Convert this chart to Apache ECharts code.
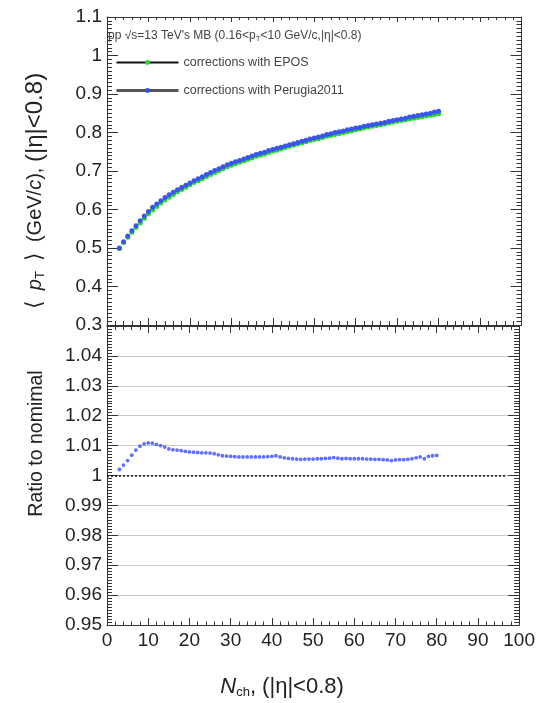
<!DOCTYPE html>
<html>
<head>
<meta charset="utf-8">
<script src="https://cdn.jsdelivr.net/npm/echarts@6/dist/echarts.min.js"></script>
<style>
html,body{margin:0;padding:0;background:#fff;}
#c{width:538px;height:703px;}
</style>
</head>
<body>
<div id="c"></div>
<script>
// ---- data ----
const nch = [3,4,5,6,7,8,9,10,11,12,13,14,15,16,17,18,19,20,21,22,23,24,25,26,27,28,29,30,31,32,33,34,35,36,37,38,39,40,41,42,43,44,45,46,47,48,49,50,51,52,53,54,55,56,57,58,59,60,61,62,63,64,65,66,67,68,69,70,71,72,73,74,75,76,77,78,79,80];
const meanPtEPOS = [0.499,0.514,0.528,0.541,0.553,0.565,0.577,0.589,0.599,0.608,0.617,0.625,0.632,0.639,0.646,0.652,0.658,0.664,0.670,0.675,0.680,0.686,0.691,0.696,0.701,0.706,0.711,0.715,0.719,0.723,0.726,0.730,0.734,0.738,0.741,0.744,0.748,0.751,0.754,0.757,0.761,0.764,0.767,0.770,0.773,0.776,0.779,0.782,0.784,0.787,0.790,0.792,0.795,0.797,0.800,0.802,0.804,0.807,0.809,0.812,0.814,0.816,0.818,0.820,0.822,0.825,0.827,0.829,0.831,0.833,0.835,0.837,0.839,0.841,0.843,0.845,0.847,0.849];
const meanPtPerugia = [0.500,0.516,0.531,0.545,0.558,0.571,0.583,0.595,0.606,0.614,0.623,0.631,0.638,0.645,0.651,0.657,0.663,0.669,0.675,0.680,0.685,0.691,0.696,0.701,0.706,0.711,0.716,0.720,0.724,0.727,0.731,0.735,0.739,0.743,0.746,0.749,0.753,0.756,0.759,0.762,0.765,0.768,0.771,0.774,0.777,0.780,0.783,0.786,0.788,0.791,0.795,0.797,0.800,0.802,0.804,0.807,0.809,0.812,0.813,0.816,0.818,0.820,0.822,0.824,0.826,0.829,0.831,0.833,0.835,0.837,0.840,0.842,0.844,0.846,0.848,0.850,0.853,0.855];
const ratioToNominal = [1.0020,1.0035,1.0050,1.0068,1.0085,1.0098,1.0106,1.0109,1.0108,1.0104,1.0100,1.0095,1.0089,1.0086,1.0085,1.0083,1.0081,1.0079,1.0078,1.0077,1.0076,1.0076,1.0075,1.0073,1.0069,1.0066,1.0065,1.0064,1.0063,1.0062,1.0062,1.0062,1.0062,1.0062,1.0062,1.0062,1.0063,1.0064,1.0066,1.0062,1.0059,1.0057,1.0056,1.0055,1.0054,1.0055,1.0055,1.0055,1.0056,1.0056,1.0057,1.0058,1.0060,1.0058,1.0056,1.0057,1.0056,1.0056,1.0056,1.0056,1.0055,1.0055,1.0054,1.0054,1.0053,1.0052,1.0050,1.0052,1.0053,1.0053,1.0054,1.0056,1.0059,1.0062,1.0056,1.0064,1.0066,1.0067];
const seriesNames = ['corrections with EPOS', 'corrections with Perugia2011'];
const unityLine = [[0, 1], [97, 1]];

// ---- chart ----
const FONT = 'Liberation Sans';
const frame = '#333';
const chart = echarts.init(document.getElementById('c'), null, {renderer: 'canvas'});
const pair = (ys) => nch.map((x, i) => [x, ys[i]]);

function xAx(grid, pos, labels, extra) {
  return Object.assign({
    type: 'value', gridIndex: grid, position: pos, min: 0, max: 100, interval: 10,
    axisLine: {show: true, onZero: false, lineStyle: {color: frame, width: 1}},
    axisTick: {show: true, inside: true, length: 8, lineStyle: {color: frame}},
    minorTick: {show: true, splitNumber: 5, length: 4, lineStyle: {color: frame}},
    axisLabel: {show: labels, margin: 6, fontFamily: FONT, fontSize: 19, color: '#222'},
    splitLine: {show: false}
  }, extra || {});
}
function yAx(grid, pos, min, max, interval, labels, extra) {
  return Object.assign({
    type: 'value', gridIndex: grid, position: pos, min: min, max: max, interval: interval,
    axisLine: {show: true, onZero: false, lineStyle: {color: frame, width: 1}},
    axisTick: {show: true, inside: true, length: 11, lineStyle: {color: frame}},
    minorTick: {show: true, splitNumber: 10, length: 5, lineStyle: {color: frame}},
    axisLabel: {show: labels, margin: 5, fontFamily: FONT, fontSize: 19, color: '#222'},
    splitLine: {show: false}
  }, extra || {});
}
const richTitle = {
  a: {fontFamily: FONT, fontSize: 20, color: '#222'},
  i: {fontFamily: FONT, fontSize: 20, fontStyle: 'italic', color: '#222'},
  s: {fontFamily: FONT, fontSize: 13, color: '#222', verticalAlign: 'bottom', padding: [10, 0, 0, 0]},
  b: {fontFamily: FONT, fontSize: 22, color: '#222', padding: [0, 10, 0, 10]},
  w: {fontFamily: FONT, fontSize: 24, color: '#222'}
};

const option = {
  backgroundColor: '#fff',
  animation: false,
  textStyle: {fontFamily: FONT},
  title: {
    left: 103, top: 24,
    text: '{a|pp √}{a|s}{a|=13 TeV\'s MB (0.16<p}{s|T}{a|<10 GeV/c,|η|<0.8)}',
    textStyle: {
      fontWeight: 'normal',
      rich: {
        a: {fontFamily: FONT, fontSize: 12, color: '#444', fontWeight: 'normal'},
        s: {fontFamily: FONT, fontSize: 8, color: '#444', fontWeight: 'normal', verticalAlign: 'bottom', padding: [6, 0, 0, 0]}
      }
    }
  },
  legend: {
    orient: 'vertical', left: 110, top: 51,
    itemWidth: 62, itemHeight: 6, itemGap: 15,
    textStyle: {fontFamily: FONT, fontSize: 12.5, color: '#444'},
    data: [
      {name: seriesNames[0], itemStyle: {color: '#22dd22'}, lineStyle: {color: '#111', width: 2, opacity: 1}},
      {name: seriesNames[1], itemStyle: {color: '#3050f0'}, lineStyle: {color: '#555', width: 3, opacity: 1}}
    ]
  },
  grid: [
    {left: 107, right: 16.5, top: 17, height: 308},
    {left: 107, right: 16.5, top: 326, height: 299}
  ],
  xAxis: [
    xAx(0, 'bottom', false, {axisTick: {show: true, inside: true, length: 7, lineStyle: {color: frame}}}),
    xAx(0, 'top', false, {axisTick: {show: true, inside: true, length: 5, lineStyle: {color: frame}}, minorTick: {show: true, splitNumber: 5, length: 3, lineStyle: {color: frame}}}),
    xAx(1, 'bottom', true, {
      name: '{i|N}{s|ch}{w|, (|η|<0.8)}',
      nameLocation: 'middle', nameGap: 50,
      nameTextStyle: {padding: [0, 62, 0, 0], rich: {
        i: {fontFamily: FONT, fontSize: 22, fontStyle: 'italic', color: '#222'},
        s: {fontFamily: FONT, fontSize: 13, color: '#222', verticalAlign: 'bottom', padding: [11, 0, 0, 0]},
        w: {fontFamily: FONT, fontSize: 22, color: '#222'}
      }},
      axisTick: {show: true, inside: true, length: 7, lineStyle: {color: frame}},
      minorTick: {show: true, splitNumber: 5, length: 3.5, lineStyle: {color: frame}}
    }),
    xAx(1, 'top', false, {axisTick: {show: true, inside: true, length: 7, lineStyle: {color: frame}}})
  ],
  yAxis: [
    yAx(0, 'left', 0.3, 1.1, 0.1, true, {
      name: '{b|⟨}{i|p}{s|T}{b|⟩}{a|(GeV/}{i|c}{a|), }{w|(|η|<0.8)}',
      nameLocation: 'middle', nameGap: 60, nameRotate: 90,
      nameTextStyle: {padding: [0, 50, 0, 0], rich: richTitle}
    }),
    yAx(0, 'right', 0.3, 1.1, 0.1, false),
    yAx(1, 'left', 0.95, 1.05, 0.01, true, {
      name: 'Ratio to nomimal',
      nameLocation: 'middle', nameGap: 60, nameRotate: 90,
      nameTextStyle: {fontFamily: FONT, fontSize: 19.5, color: '#222', padding: [0, 0, 0, 64]},
      axisLabel: {show: true, margin: 5, fontFamily: FONT, fontSize: 19, color: '#222',
        formatter: (v) => (v > 1.045 ? '' : String(Math.round(v * 100) / 100))},
      splitLine: {show: true, lineStyle: {color: '#c8c8c8', width: 1}}
    }),
    yAx(1, 'right', 0.95, 1.05, 0.01, false)
  ],
  series: [
    {
      name: seriesNames[0], type: 'line', xAxisIndex: 0, yAxisIndex: 0,
      data: pair(meanPtEPOS), symbol: 'circle', symbolSize: 5, showAllSymbol: true,
      itemStyle: {color: '#22dd22'}, lineStyle: {width: 0, opacity: 0}, z: 3
    },
    {
      name: seriesNames[1], type: 'line', xAxisIndex: 0, yAxisIndex: 0,
      data: pair(meanPtPerugia), symbol: 'circle', symbolSize: 5, showAllSymbol: true,
      itemStyle: {color: '#3a55ee'}, lineStyle: {width: 0, opacity: 0}, z: 4
    },
    {
      name: 'ratio', type: 'scatter', xAxisIndex: 2, yAxisIndex: 2,
      data: pair(ratioToNominal), symbol: 'circle', symbolSize: 3.8,
      itemStyle: {color: '#3a4cff'}, z: 4,
      markLine: {
        silent: true, symbol: 'none', label: {show: false},
        lineStyle: {color: '#111', type: [2, 2], width: 1.5},
        data: [[{coord: unityLine[0]}, {coord: unityLine[1]}]]
      }
    }
  ]
};
chart.setOption(option);
</script>
</body>
</html>
